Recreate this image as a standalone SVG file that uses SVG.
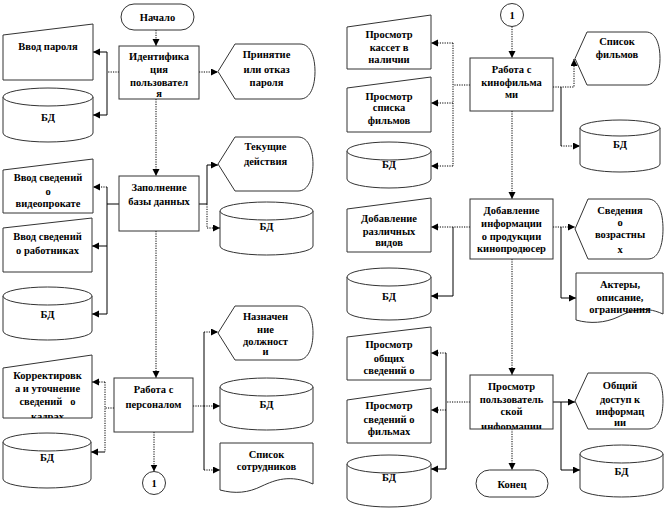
<svg xmlns="http://www.w3.org/2000/svg" width="670" height="511" viewBox="0 0 670 511">
<style>
.s{fill:#fff;stroke:#333;stroke-width:1}
.t{font-family:"Liberation Serif","Times New Roman",serif;font-weight:bold;font-size:10.5px;fill:#000;text-anchor:middle}
.c{fill:none;stroke:#000;stroke-width:1}
.d{fill:none;stroke:#000;stroke-width:1;stroke-dasharray:1.2 1.2}
.a{marker-end:url(#ah)}
</style>
<defs>
<marker id="ah" markerUnits="userSpaceOnUse" markerWidth="8" markerHeight="8" refX="7" refY="3.5" orient="auto">
<path d="M0,0 L7,3.5 L0,7 z" fill="#000"/>
</marker>
<clipPath id="clCorr"><polygon points="3,368 92,355 92,418 3,418"/></clipPath>
<clipPath id="clUser"><rect x="470" y="375" width="83" height="54"/></clipPath>
</defs>

<g id="connectors">
<!-- left column -->
<path class="d a" d="M156,30 V46"/>
<path class="d a" d="M199,72 H218"/>
<path class="d" d="M119,72 H107"/>
<path class="c" d="M107,52 V115"/>
<path class="c a" d="M107,52 H93"/>
<path class="c a" d="M107,115 H93"/>
<path class="d a" d="M156,99 V176"/>
<path class="c" d="M199,204 H207 V165"/>
<path class="c a" d="M207,165 H218"/>
<path class="d" d="M207,204 V228"/>
<path class="d a" d="M207,228 H220"/>
<path class="c" d="M119,204 H107"/>
<path class="c" d="M107,187 V314"/>
<path class="d a" d="M107,187 H93"/>
<path class="c a" d="M107,246 H92"/>
<path class="c a" d="M107,314 H92"/>
<path class="d a" d="M156,231 V378"/>
<path class="d" d="M193,406 H204"/>
<path class="c" d="M204,332 V470"/>
<path class="d a" d="M204,332 H218"/>
<path class="d a" d="M204,406 H220"/>
<path class="d a" d="M204,470 H220"/>
<path class="d" d="M114,408 H105"/>
<path class="d" d="M105,382 V452"/>
<path class="d a" d="M105,382 H92"/>
<path class="c a" d="M105,452 H91"/>
<path class="d a" d="M154,432 V471.5"/>
<!-- right column -->
<path class="d a" d="M512,26.5 V58"/>
<path class="d" d="M470,85 H453"/>
<path class="d" d="M453,43 V166"/>
<path class="d a" d="M453,43 H431"/>
<path class="d a" d="M453,103 H431"/>
<path class="d a" d="M453,166 H431"/>
<path class="d a" d="M553,87 H574 V59"/>
<path class="c" d="M561,87 V146"/>
<path class="d a" d="M561,146 H580"/>
<path class="d a" d="M512,111 V199"/>
<path class="d" d="M470,227 H453"/>
<path class="c" d="M453,227 V296"/>
<path class="d a" d="M453,227 H431"/>
<path class="c a" d="M453,296 H431"/>
<path class="d a" d="M553,227 H575"/>
<path class="c" d="M561,227 V298"/>
<path class="c a" d="M561,298 H576"/>
<path class="d a" d="M512,259 V375"/>
<path class="d" d="M470,402 H446"/>
<path class="c" d="M446,353 V469"/>
<path class="d a" d="M446,353 H431"/>
<path class="d a" d="M446,410 H431"/>
<path class="c a" d="M446,469 H431"/>
<path class="c a" d="M553,402 H575"/>
<path class="c" d="M561,402 V470"/>
<path class="c a" d="M561,470 H580"/>
<path class="d a" d="M512,429 V470"/>
</g>

<g id="start">
<rect class="s" x="121" y="4" width="73" height="26" rx="13"/>
<text class="t" x="157.5" y="21">Начало</text>
</g>
<g id="ident">
<rect class="s" x="119" y="46" width="80" height="53"/>
<text class="t" x="159" y="60">Идентифика</text>
<text class="t" x="159" y="73">ция</text>
<text class="t" x="159" y="86">пользовател</text>
<text class="t" x="159" y="97">я</text>
</g>
<g id="pwd">
<polygon class="s" points="3,35 93,24 93,80 3,80"/>
<text class="t" x="48" y="50">Ввод пароля</text>
</g>
<g id="db1">
<path class="s" d="M3,97 A45,9 0 0 1 93,97 V133 A45,9 0 0 1 3,133 Z"/>
<path class="s" d="M3,97 A45,9 0 0 0 93,97" fill="none"/>
<text class="t" x="48" y="121">БД</text>
</g>
<g id="accept">
<path class="s" d="M218,71.5 L235,44 H300 C311,44 315,58 315,71.5 C315,85 311,99 300,99 H235 Z"/>
<text class="t" x="266.5" y="58">Принятие</text>
<text class="t" x="266.5" y="73">или отказ</text>
<text class="t" x="266.5" y="86">пароля</text>
</g>
<g id="current">
<path class="s" d="M218,164 L235,137 H298 C309,137 313,151 313,164 C313,177 309,191 298,191 H235 Z"/>
<text class="t" x="265.5" y="150">Текущие</text>
<text class="t" x="265.5" y="165">действия</text>
</g>
<g id="fill">
<rect class="s" x="119" y="176" width="80" height="55"/>
<text class="t" x="159" y="191">Заполнение</text>
<text class="t" x="159" y="205">базы данных</text>
</g>
<g id="invideo">
<polygon class="s" points="3,170 93,159 93,213 3,213"/>
<text class="t" x="48" y="181">Ввод сведений</text>
<text class="t" x="48" y="195">о</text>
<text class="t" x="48" y="207">видеопрокате</text>
</g>
<g id="inworkers">
<polygon class="s" points="3,228 92,218 92,272 3,272"/>
<text class="t" x="47.5" y="240">Ввод сведений</text>
<text class="t" x="47.5" y="254">о работниках</text>
</g>
<g id="db2">
<path class="s" d="M3,296 A44.5,9 0 0 1 92,296 V331 A44.5,9 0 0 1 3,331 Z"/>
<path class="s" d="M3,296 A44.5,9 0 0 0 92,296" fill="none"/>
<text class="t" x="47.5" y="318">БД</text>
</g>
<g id="db3">
<path class="s" d="M220,211 A46.5,9 0 0 1 313,211 V246 A46.5,9 0 0 1 220,246 Z"/>
<path class="s" d="M220,211 A46.5,9 0 0 0 313,211" fill="none"/>
<text class="t" x="266.5" y="230">БД</text>
</g>
<g id="assign">
<path class="s" d="M218,333 L235,306 H298 C309,306 313,320 313,333 C313,346 309,360 298,360 H235 Z"/>
<text class="t" x="265.5" y="320">Назначен</text>
<text class="t" x="265.5" y="333">ние</text>
<text class="t" x="265.5" y="345">должност</text>
<text class="t" x="265.5" y="355">и</text>
</g>
<g id="staff">
<rect class="s" x="114" y="378" width="79" height="54"/>
<text class="t" x="153.5" y="393">Работа с</text>
<text class="t" x="153.5" y="408">персоналом</text>
</g>
<g id="db4">
<path class="s" d="M220,387 A46.5,9 0 0 1 313,387 V421 A46.5,9 0 0 1 220,421 Z"/>
<path class="s" d="M220,387 A46.5,9 0 0 0 313,387" fill="none"/>
<text class="t" x="266.5" y="408">БД</text>
</g>
<g id="stafflist">
<path class="s" d="M220,443 H313 V484 C290,474 275,480 262,486 C248,493 235,494 220,490 Z"/>
<text class="t" x="266.5" y="458">Список</text>
<text class="t" x="266.5" y="470">сотрудников</text>
</g>
<g id="correct">
<polygon class="s" points="3,368 92,355 92,418 3,418"/>
<text class="t" x="47.5" y="379">Корректировк</text>
<text class="t" x="47.5" y="392">а и уточнение</text>
<text class="t" x="47.5" y="405" xml:space="preserve">сведений   о</text>
<text class="t" x="47.5" y="420" clip-path="url(#clCorr)">кадрах</text>
</g>
<g id="db5">
<path class="s" d="M3,442 A44,9 0 0 1 91,442 V479 A44,9 0 0 1 3,479 Z"/>
<path class="s" d="M3,442 A44,9 0 0 0 91,442" fill="none"/>
<text class="t" x="47" y="461">БД</text>
</g>
<g id="conn1a">
<circle class="s" cx="154" cy="483" r="11.5"/>
<text class="t" x="154" y="487">1</text>
</g>

<g id="conn1b">
<circle class="s" cx="512" cy="15" r="11.5"/>
<text class="t" x="512" y="19">1</text>
</g>
<g id="films">
<rect class="s" x="470" y="58" width="83" height="53"/>
<text class="t" x="511.5" y="73">Работа с</text>
<text class="t" x="511.5" y="86">кинофильма</text>
<text class="t" x="511.5" y="98">ми</text>
</g>
<g id="cassettes">
<polygon class="s" points="347,27 431,15 431,69 347,69"/>
<text class="t" x="389" y="38">Просмотр</text>
<text class="t" x="389" y="51">кассет в</text>
<text class="t" x="389" y="63">наличии</text>
</g>
<g id="filmlistview">
<polygon class="s" points="347,88 431,77 431,132 347,132"/>
<text class="t" x="389" y="100">Просмотр</text>
<text class="t" x="389" y="111">списка</text>
<text class="t" x="389" y="124">фильмов</text>
</g>
<g id="db6">
<path class="s" d="M347,151 A42,9 0 0 1 431,151 V179 A42,9 0 0 1 347,179 Z"/>
<path class="s" d="M347,151 A42,9 0 0 0 431,151" fill="none"/>
<text class="t" x="389" y="168">БД</text>
</g>
<g id="filmlist">
<path class="s" d="M575,58.5 L587,32 H646 C656,32 660,45 660,58.5 C660,72 656,85 646,85 H587 Z"/>
<text class="t" x="617" y="45">Список</text>
<text class="t" x="617" y="58">фильмов</text>
</g>
<g id="db7">
<path class="s" d="M580,128 A40,8 0 0 1 660,128 V164 A40,8 0 0 1 580,164 Z"/>
<path class="s" d="M580,128 A40,8 0 0 0 660,128" fill="none"/>
<text class="t" x="620" y="148">БД</text>
</g>
<g id="addinfo">
<rect class="s" x="470" y="199" width="83" height="60"/>
<text class="t" x="511.5" y="214">Добавление</text>
<text class="t" x="511.5" y="227">информации</text>
<text class="t" x="511.5" y="240">о продукции</text>
<text class="t" x="511.5" y="252">кинопродюсер</text>
</g>
<g id="addkinds">
<polygon class="s" points="347,209 431,198 431,252 347,252"/>
<text class="t" x="389" y="222">Добавление</text>
<text class="t" x="389" y="235">различных</text>
<text class="t" x="389" y="246">видов</text>
</g>
<g id="db8">
<path class="s" d="M347,277 A42,9 0 0 1 431,277 V311 A42,9 0 0 1 347,311 Z"/>
<path class="s" d="M347,277 A42,9 0 0 0 431,277" fill="none"/>
<text class="t" x="389" y="300">БД</text>
</g>
<g id="ages">
<path class="s" d="M575,229 L588,199 H648 C659,199 663,214 663,229 C663,244 659,259 648,259 H588 Z"/>
<text class="t" x="620" y="214">Сведения</text>
<text class="t" x="620" y="226">о</text>
<text class="t" x="620" y="238">возрастны</text>
<text class="t" x="620" y="253">х</text>
</g>
<g id="actors">
<path class="s" d="M576,273 H663 V314 C643,305 630,311 618,317 C605,323 590,324 576,320 Z"/>
<text class="t" x="620" y="288">Актеры,</text>
<text class="t" x="620" y="301">описание,</text>
<text class="t" x="620" y="313">ограничения</text>
</g>
<g id="general">
<polygon class="s" points="347,337 431,327 431,380 347,380"/>
<text class="t" x="389" y="348">Просмотр</text>
<text class="t" x="389" y="362">общих</text>
<text class="t" x="389" y="374">сведений о</text>
</g>
<g id="filminfo">
<polygon class="s" points="347,400 431,388 431,443 347,443"/>
<text class="t" x="389" y="409">Просмотр</text>
<text class="t" x="389" y="423">сведений о</text>
<text class="t" x="389" y="435">фильмах</text>
</g>
<g id="db9">
<path class="s" d="M347,464 A42,9 0 0 1 431,464 V498 A42,9 0 0 1 347,498 Z"/>
<path class="s" d="M347,464 A42,9 0 0 0 431,464" fill="none"/>
<text class="t" x="389" y="481">БД</text>
</g>
<g id="userinfo">
<rect class="s" x="470" y="375" width="83" height="54"/>
<text class="t" x="511.5" y="390">Просмотр</text>
<text class="t" x="511.5" y="403">пользователь</text>
<text class="t" x="511.5" y="415">ской</text>
<text class="t" x="511.5" y="430" clip-path="url(#clUser)">информации</text>
</g>
<g id="access">
<path class="s" d="M575,401 L588,373 H648 C659,373 663,387 663,401 C663,415 659,429 648,429 H588 Z"/>
<text class="t" x="620" y="389">Общий</text>
<text class="t" x="620" y="403">доступ к</text>
<text class="t" x="620" y="415">информац</text>
<text class="t" x="620" y="426">ии</text>
</g>
<g id="db10">
<path class="s" d="M580,454 A41.5,9 0 0 1 663,454 V488 A41.5,9 0 0 1 580,488 Z"/>
<path class="s" d="M580,454 A41.5,9 0 0 0 663,454" fill="none"/>
<text class="t" x="621.5" y="475">БД</text>
</g>
<g id="end">
<rect class="s" x="476" y="470" width="72" height="27" rx="13.5"/>
<text class="t" x="512" y="488">Конец</text>
</g>
</svg>
